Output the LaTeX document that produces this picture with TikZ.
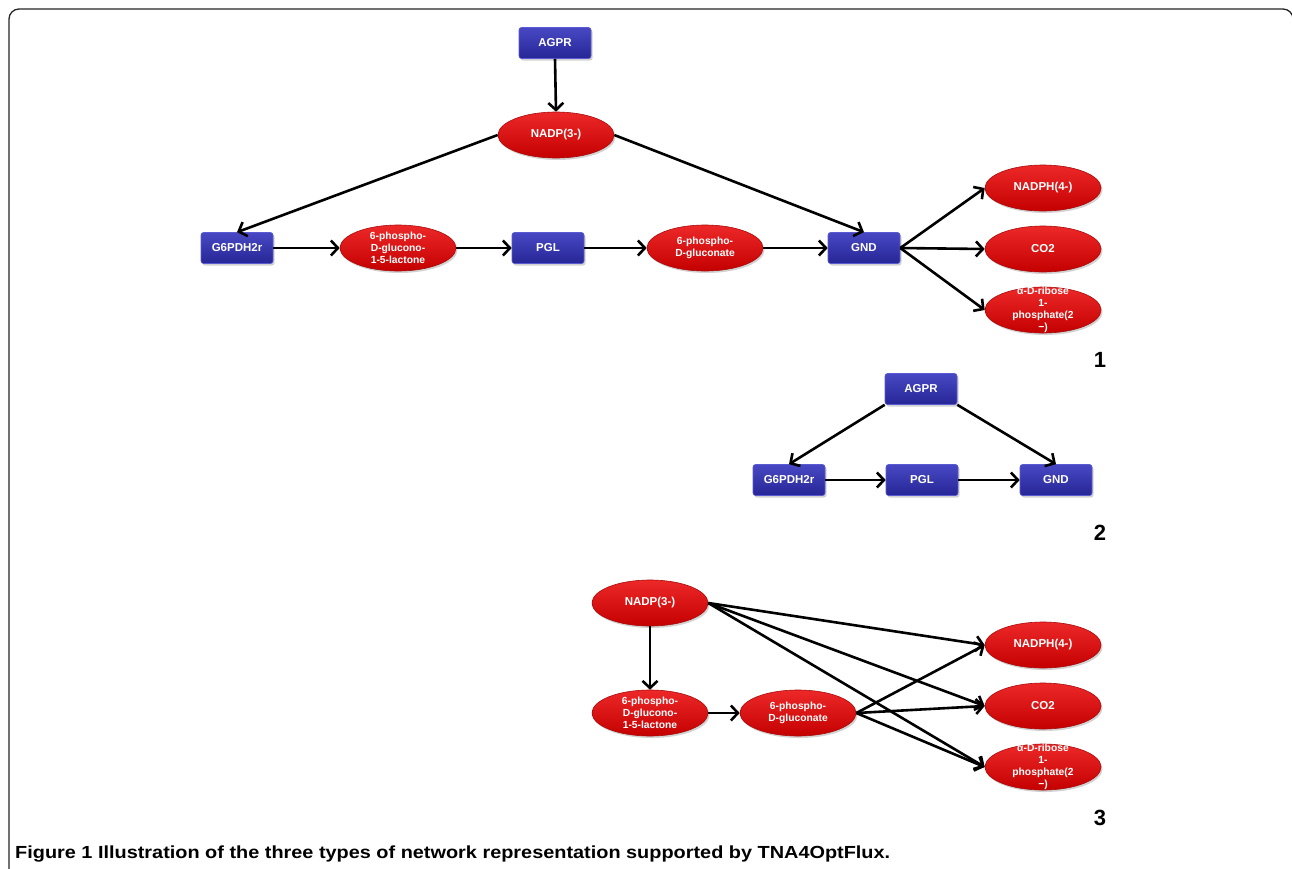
\documentclass[tikz,border=0pt]{standalone}
\usepackage{fontspec}
\usepackage{graphicx}
\setmainfont{Liberation Sans}
\usetikzlibrary{shapes.geometric,arrows.meta,shadows}
\definecolor{boxtop}{RGB}{72,72,196}
\definecolor{boxbot}{RGB}{38,38,150}
\definecolor{boxline}{RGB}{90,90,210}
\definecolor{elltop}{RGB}{236,40,40}
\definecolor{ellbot}{RGB}{196,0,0}
\definecolor{ellline}{RGB}{170,10,10}
\tikzset{
  rxn/.style={rectangle, rounded corners=2.5pt, minimum width=72pt, minimum height=31pt,
    inner sep=0pt, top color=boxtop, bottom color=boxbot, draw=boxline, line width=0.6pt,
    text=white, font=\bfseries\fontsize{11.5}{13}\selectfont,
    drop shadow={opacity=0.35, shadow xshift=1.5pt, shadow yshift=-2pt}},
  met/.style={ellipse, minimum width=116pt, minimum height=46pt, inner sep=0pt,
    top color=elltop, bottom color=ellbot, draw=ellline, line width=0.6pt,
    text=white, align=center, font=\bfseries\fontsize{11.5}{13}\selectfont,
    drop shadow={opacity=0.35, shadow xshift=1.5pt, shadow yshift=-2pt}},
  small/.style={font=\bfseries\fontsize{10.3}{12.2}\selectfont},
  ribtext/.style={text=white, align=center, font=\bfseries\fontsize{10.3}{12}\selectfont, inner sep=0pt},
  flow/.style={line width=2.6pt, -{Straight Barb[length=7pt,width=15pt,line width=2.6pt]}},
  numlbl/.style={font=\bfseries\fontsize{22}{24}\selectfont},
}
\begin{document}
\begin{tikzpicture}[x=1pt,y=-1pt]
\useasboundingbox (0,0) rectangle (1292,868);
\fill[white] (0,0) rectangle (1292,868);
\draw[line width=1.3pt, rounded corners=10pt, draw=black!85] (9,890) -- (9,9) -- (1293,9) -- (1293,890);

% ---------- Diagram 1 ----------
\node[rxn] (agpr1) at (555,43) {AGPR};
\node[met] (nadp1) at (556,135) {NADP(3-)};
\node[rxn] (g6a) at (237,248) {G6PDH2r};
\node[met, small] (lac1) at (398,248) {6-phospho-\\D-glucono-\\1-5-lactone};
\node[rxn] (pgl1) at (548,248) {PGL};
\node[met, small] (glu1) at (705,248) {6-phospho-\\D-gluconate};
\node[rxn] (gnd1) at (864,248) {GND};
\node[met] (nadph1) at (1043,188) {NADPH(4-)};
\node[met] (co21) at (1043,249) {CO2};
\node[met, label={[ribtext]center:{α-D-ribose\\1-\\phosphate(2\\−)}}] (rib1) at (1043,310) {};
\node[numlbl] (l1) at (1100,360) {1};

\draw[flow] (agpr1.south) -- (nadp1.north);
\draw[flow] (nadp1.west) -- (g6a.north);
\draw[flow] (nadp1.east) -- (gnd1.north);
\draw[flow] (g6a.east) -- (lac1.west);
\draw[flow] (lac1.east) -- (pgl1.west);
\draw[flow] (pgl1.east) -- (glu1.west);
\draw[flow] (glu1.east) -- (gnd1.west);
\draw[flow] (gnd1.east) -- (nadph1.west);
\draw[flow] (gnd1.east) -- (co21.west);
\draw[flow] (gnd1.east) -- (rib1.west);

% ---------- Diagram 2 ----------
\node[rxn] (agpr2) at (921,389) {AGPR};
\node[rxn] (g6b) at (789,480) {G6PDH2r};
\node[rxn] (pgl2) at (922,480) {PGL};
\node[rxn] (gnd2) at (1056,480) {GND};
\node[numlbl] (l2) at (1100,533) {2};

\draw[flow] (agpr2.south west) -- (g6b.north);
\draw[flow] (agpr2.south east) -- (gnd2.north);
\draw[flow] (g6b.east) -- (pgl2.west);
\draw[flow] (pgl2.east) -- (gnd2.west);

% ---------- Diagram 3 ----------
\node[met] (nadp3) at (650,603) {NADP(3-)};
\node[met, small] (lac3) at (650,713) {6-phospho-\\D-glucono-\\1-5-lactone};
\node[met, small] (glu3) at (798,713) {6-phospho-\\D-gluconate};
\node[met] (nadph3) at (1043,645) {NADPH(4-)};
\node[met] (co23) at (1043,706) {CO2};
\node[met, label={[ribtext]center:{α-D-ribose\\1-\\phosphate(2\\−)}}] (rib3) at (1043,767) {};
\node[numlbl] (l3) at (1100,818) {3};

\draw[flow] (nadp3.south) -- (lac3.north);
\draw[flow] (lac3.east) -- (glu3.west);
\draw[flow] (nadp3.east) -- (nadph3.west);
\draw[flow] (nadp3.east) -- (co23.west);
\draw[flow] (nadp3.east) -- (rib3.west);
\draw[flow] (glu3.east) -- (nadph3.west);
\draw[flow] (glu3.east) -- (co23.west);
\draw[flow] (glu3.east) -- (rib3.west);

% ---------- Caption ----------
\node[anchor=base west, inner sep=0pt, font=\fontsize{17.5}{19}\selectfont] (cap) at (15,858)
  {\resizebox{875pt}{\height}{\textbf{Figure 1} \textbf{Illustration of the three types of network representation supported by TNA4OptFlux.}}};
\end{tikzpicture}
\end{document}
